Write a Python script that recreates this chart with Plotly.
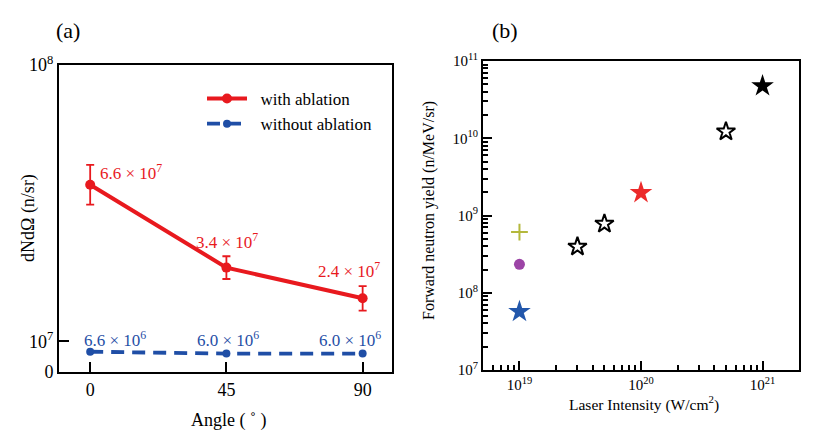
import plotly.graph_objects as go

# ---------------- Panel (a) data ----------------
angles = [0, 45, 90]
with_ablation = [6.1e7, 3.4e7, 2.4e7]
with_ablation_err = [6.5e6, 3.7e6, 4.0e6]
without_ablation = [6.6e6, 6.0e6, 6.0e6]
with_labels = ["6.6 × 10<sup>7</sup>", "3.4 × 10<sup>7</sup>", "2.4 × 10<sup>7</sup>"]
without_labels = ["6.6 × 10<sup>6</sup>", "6.0 × 10<sup>6</sup>", "6.0 × 10<sup>6</sup>"]
a_xticks = [0, 45, 90]
a_yticks = [0, 1e7, 1e8]
a_yticktext = ["0", "10<sup>7</sup>", "10<sup>8</sup>"]

# ---------------- Panel (b) data ----------------
blue_star_x = [1e19]
blue_star_y = [5.7e7]
purple_dot_x = [1e19]
purple_dot_y = [2.33e8]
olive_plus_x = [1e19]
olive_plus_y = [6.1e8]
open_star_x = [3e19, 5e19, 5e20]
open_star_y = [3.95e8, 7.8e8, 1.22e10]
red_star_x = [1e20]
red_star_y = [1.97e9]
black_star_x = [1e21]
black_star_y = [4.75e10]
b_xticks = [1e19, 1e20, 1e21]
b_xticktext = ["10<sup>19</sup>", "10<sup>20</sup>", "10<sup>21</sup>"]
b_yticks = [1e7, 1e8, 1e9, 1e10, 1e11]
b_yticktext = ["10<sup>7</sup>", "10<sup>8</sup>", "10<sup>9</sup>", "10<sup>10</sup>", "10<sup>11</sup>"]

FONT = "Liberation Serif, Times New Roman, serif"
RED = "#e8191e"
BLUE = "#1f4ea6"

W, H = 818, 438

def px_x(p):
    return p / W

def px_y(p):
    return 1 - p / H

fig = go.Figure()

# Panel (a) traces
fig.add_trace(go.Scatter(
    x=angles, y=with_ablation, name="\u00a0\u00a0with ablation", mode="lines+markers",
    line=dict(color=RED, width=4), marker=dict(color=RED, size=10),
    error_y=dict(type="data", array=with_ablation_err, color=RED, thickness=1.8, width=4),
    xaxis="x", yaxis="y"))
fig.add_trace(go.Scatter(
    x=angles, y=without_ablation, name="\u00a0\u00a0without ablation", mode="lines+markers",
    line=dict(color=BLUE, width=3.8, dash="13px,8px"), marker=dict(color=BLUE, size=8),
    xaxis="x", yaxis="y"))

# Panel (b) traces
fig.add_trace(go.Scatter(x=blue_star_x, y=blue_star_y, mode="markers", showlegend=False,
                         marker=dict(symbol="star", size=17, color="#2257ab"),
                         xaxis="x2", yaxis="y2"))
fig.add_trace(go.Scatter(x=purple_dot_x, y=purple_dot_y, mode="markers", showlegend=False,
                         marker=dict(symbol="circle", size=11, color="#9c44a6"),
                         xaxis="x2", yaxis="y2"))
fig.add_trace(go.Scatter(x=olive_plus_x, y=olive_plus_y, mode="markers", showlegend=False,
                         marker=dict(symbol="cross-thin", size=12, color="#b4b83c",
                                     line=dict(color="#b4b83c", width=2)),
                         xaxis="x2", yaxis="y2"))
fig.add_trace(go.Scatter(x=open_star_x, y=open_star_y, mode="markers", showlegend=False,
                         marker=dict(symbol="star-open", size=14, color="black",
                                     line=dict(color="black", width=2)),
                         xaxis="x2", yaxis="y2"))
fig.add_trace(go.Scatter(x=red_star_x, y=red_star_y, mode="markers", showlegend=False,
                         marker=dict(symbol="star", size=17, color="#ec2a2a"),
                         xaxis="x2", yaxis="y2"))
fig.add_trace(go.Scatter(x=black_star_x, y=black_star_y, mode="markers", showlegend=False,
                         marker=dict(symbol="star", size=17, color="black"),
                         xaxis="x2", yaxis="y2"))

annotations = []
# value labels panel (a)
with_shift = [(8, 13, "left"), (1, 27, "center"), (-14, 28, "center")]
for xv, yv, txt, (dx, dy, anc) in zip(angles, with_ablation, with_labels, with_shift):
    annotations.append(dict(x=xv, y=yv, xref="x", yref="y", text=txt, showarrow=False,
                            xanchor=anc, yanchor="middle", xshift=dx, yshift=dy,
                            font=dict(family=FONT, size=17, color=RED)))
without_shift = [(25, 13, "center"), (2, 15, "center"), (-13, 15, "center")]
for xv, yv, txt, (dx, dy, anc) in zip(angles, without_ablation, without_labels, without_shift):
    annotations.append(dict(x=xv, y=yv, xref="x", yref="y", text=txt, showarrow=False,
                            xanchor=anc, yanchor="middle", xshift=dx, yshift=dy,
                            font=dict(family=FONT, size=17, color=BLUE)))

# panel letters
annotations.append(dict(x=px_x(68), y=px_y(30), xref="paper", yref="paper", text="(a)",
                        showarrow=False, xanchor="center", yanchor="middle",
                        font=dict(family=FONT, size=22, color="black")))
annotations.append(dict(x=px_x(505), y=px_y(30), xref="paper", yref="paper", text="(b)",
                        showarrow=False, xanchor="center", yanchor="middle",
                        font=dict(family=FONT, size=22, color="black")))
# axis titles
annotations.append(dict(x=px_x(228), y=px_y(420), xref="paper", yref="paper",
                        text="Angle ( ˚ )",
                        showarrow=False, xanchor="center", yanchor="middle",
                        font=dict(family=FONT, size=18, color="black")))
annotations.append(dict(x=px_x(29), y=px_y(218), xref="paper", yref="paper", text="dNdΩ (n/sr)",
                        showarrow=False, xanchor="center", yanchor="middle", textangle=-90,
                        font=dict(family=FONT, size=18, color="black")))
annotations.append(dict(x=px_x(644), y=px_y(403), xref="paper", yref="paper",
                        text="Laser Intensity (W/cm<sup>2</sup>)",
                        showarrow=False, xanchor="center", yanchor="middle",
                        font=dict(family=FONT, size=15.5, color="black")))
annotations.append(dict(x=px_x(429), y=px_y(211), xref="paper", yref="paper",
                        text="Forward neutron yield (n/MeV/sr)",
                        showarrow=False, xanchor="center", yanchor="middle", textangle=-90,
                        font=dict(family=FONT, size=16, color="black")))

# minor ticks for log axes
b_xminor = [m * 10.0 ** e for e in range(18, 22) for m in range(2, 10)]
b_yminor = [m * 10.0 ** e for e in range(7, 11) for m in range(2, 10)]

axis_common = dict(showline=True, linecolor="black", linewidth=2, mirror=True,
                   showgrid=False, zeroline=False, ticks="inside", tickcolor="black",
                   tickwidth=2, automargin=False)

fig.update_layout(
    template="none",
    width=W, height=H, autosize=False,
    margin=dict(l=0, r=0, t=0, b=0, pad=0),
    paper_bgcolor="white", plot_bgcolor="white",
    font=dict(family=FONT, color="black"),
    showlegend=True,
    legend=dict(x=px_x(202), y=px_y(81), xanchor="left", yanchor="top",
                bgcolor="rgba(0,0,0,0)", borderwidth=0, itemwidth=40,
                font=dict(family=FONT, size=17, color="black"), tracegroupgap=0),
    xaxis=dict(domain=[px_x(59), px_x(392)], range=[-10.3, 99.7], tickmode="array",
               tickvals=a_xticks, ticklen=10, anchor="y",
               tickfont=dict(family=FONT, size=18), **axis_common),
    yaxis=dict(domain=[px_y(372), px_y(65)], range=[0, 1e8], tickmode="array",
               tickvals=a_yticks, ticktext=a_yticktext, ticklen=10, anchor="x",
               tickfont=dict(family=FONT, size=18), **axis_common),
    xaxis2=dict(domain=[px_x(483), px_x(799)], type="log", range=[18.70, 21.30],
                tickmode="array", tickvals=b_xticks, ticktext=b_xticktext, ticklen=9,
                anchor="y2", tickfont=dict(family=FONT, size=15),
                minor=dict(tickmode="array", tickvals=b_xminor, ticks="inside", ticklen=5,
                           tickwidth=1.5, tickcolor="black", showgrid=False),
                **axis_common),
    yaxis2=dict(domain=[px_y(370), px_y(61)], type="log", range=[7, 11],
                tickmode="array", tickvals=b_yticks, ticktext=b_yticktext, ticklen=9,
                anchor="x2", tickfont=dict(family=FONT, size=15),
                minor=dict(tickmode="array", tickvals=b_yminor, ticks="inside", ticklen=5,
                           tickwidth=1.5, tickcolor="black", showgrid=False),
                **axis_common),
    annotations=annotations,
)

fig.write_html("out.html", config={"displayModeBar": False},
               post_script="document.body.style.margin='0px';")
